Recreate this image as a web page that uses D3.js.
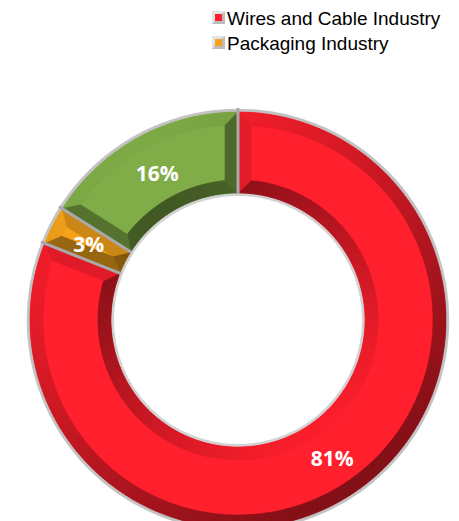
<!DOCTYPE html>
<meta charset="utf-8">
<html>
<head>
<title>Industry share</title>
<style>
  html,body{
    margin:0;
    padding:0;
    background:#fff;
  }
  .legend text{
    font-family: 'Liberation Sans', Arial, sans-serif;
    font-size: 19px;
    fill: #000;
  }
  text.label{
    font-family: 'Open Sans', sans-serif;
    font-weight: 700;
    font-size: 21px;
    fill: #fff;
  }
</style>
</head>
<body>
<svg id="chart" xmlns="http://www.w3.org/2000/svg"></svg>

<script src="https://d3js.org/d3.v7.min.js"></script>
<script type="text/javascript">
  var width = 459, height = 521;

  // slices, clockwise from 12 o'clock
  var industries = ["Wires and Cable Industry", "Packaging Industry", "Other Industries"];
  var shares = [81, 3, 16];
  var colors = ["#ff1f2d", "#f5a31b", "#80ad47"];
  // only these two entries are visible in the legend
  var legendNames = ["Wires and Cable Industry", "Packaging Industry"];

  var cx = 238, cy = 320, outerR = 208, innerR = 127, bevel = 13;
  var light = [-0.6, -0.8];

  var svg = d3.select('#chart')
    .attr('width', width)
    .attr('height', height);

  var pie = d3.pie().sort(null).value(function(d){ return d; });
  var arcs = pie(shares);

  var arc = d3.arc().innerRadius(innerR).outerRadius(outerR);
  var line = d3.line();

  function pt(r, a){
    return [r * Math.sin(a), -r * Math.cos(a)];
  }

  // colour of a bevel face from its normal
  function shade(base, nx, ny){
    var b = nx * light[0] + ny * light[1];
    var t = (b + 1) / 2;
    return d3.interpolateRgb(d3.rgb(base).darker(1.9), d3.rgb(base).darker(0.05))(t);
  }

  var g = svg.append('g').attr('transform', 'translate(' + cx + ',' + cy + ')');

  // soft grey rims
  g.append('circle').attr('r', outerR + 1.5)
    .attr('fill', 'none').attr('stroke', '#c3c3c3').attr('stroke-width', 3.5);
  g.append('circle').attr('r', innerR - 1.5)
    .attr('fill', 'none').attr('stroke', '#d2d2d2').attr('stroke-width', 3);

  arcs.forEach(function(d, i){
    var base = colors[i];
    var sg = g.append('g').attr('class', 'slice');
    var a0 = d.startAngle, a1 = d.endAngle;

    sg.append('path').attr('d', arc(d)).attr('fill', base);

    function quad(pts, col){
      sg.append('path')
        .attr('d', line(pts) + 'Z')
        .attr('fill', col)
        .attr('stroke', col)
        .attr('stroke-width', 0.6);
    }

    var n = Math.max(2, Math.ceil((a1 - a0) / 0.02));
    var dO = Math.asin(bevel / (outerR - bevel));
    var dI = Math.asin(bevel / (innerR + bevel));

    // outer and inner bevels
    for (var k = 0; k < n; k++){
      var t0 = a0 + k * (a1 - a0) / n, t1 = a0 + (k + 1) * (a1 - a0) / n;
      var tm = (t0 + t1) / 2;
      var o0 = (a0 + dO) + k * ((a1 - dO) - (a0 + dO)) / n;
      var o1 = (a0 + dO) + (k + 1) * ((a1 - dO) - (a0 + dO)) / n;
      quad([pt(outerR, t0), pt(outerR, t1), pt(outerR - bevel, o1), pt(outerR - bevel, o0)],
        shade(base, Math.sin(tm), -Math.cos(tm)));
      var i0 = (a0 + dI) + k * ((a1 - dI) - (a0 + dI)) / n;
      var i1 = (a0 + dI) + (k + 1) * ((a1 - dI) - (a0 + dI)) / n;
      quad([pt(innerR, t0), pt(innerR, t1), pt(innerR + bevel, i1), pt(innerR + bevel, i0)],
        shade(base, -Math.sin(tm), Math.cos(tm)));
    }

    // side bevels
    quad([pt(innerR, a0), pt(outerR, a0), pt(outerR - bevel, a0 + dO), pt(innerR + bevel, a0 + dI)],
      shade(base, -Math.cos(a0), -Math.sin(a0)));
    quad([pt(innerR, a1), pt(outerR, a1), pt(outerR - bevel, a1 - dO), pt(innerR + bevel, a1 - dI)],
      shade(base, Math.cos(a1), Math.sin(a1)));
  });

  // grey separators between slices
  g.selectAll('line.sep')
    .data(arcs)
    .enter().append('line')
      .attr('class', 'sep')
      .attr('x1', function(d){ return pt(innerR - 1, d.startAngle)[0]; })
      .attr('y1', function(d){ return pt(innerR - 1, d.startAngle)[1]; })
      .attr('x2', function(d){ return pt(outerR + 4, d.startAngle)[0]; })
      .attr('y2', function(d){ return pt(outerR + 4, d.startAngle)[1]; })
      .attr('stroke', '#a9a9a9')
      .attr('stroke-width', 3);

  // percentage labels
  var labelArc = d3.arc().innerRadius(innerR).outerRadius(outerR);
  g.selectAll('text.label')
    .data(arcs)
    .enter().append('text')
      .attr('class', 'label')
      .attr('transform', function(d){ return 'translate(' + labelArc.centroid(d) + ')'; })
      .attr('text-anchor', 'middle')
      .attr('dy', '0.36em')
      .text(function(d){ return d.data + '%'; });

  // legend
  var legend = svg.append('g').attr('class', 'legend');
  var items = legend.selectAll('g')
    .data(legendNames)
    .enter().append('g')
      .attr('transform', function(d, i){ return 'translate(212,' + (11 + i * 25) + ')'; });

  items.append('rect')
    .attr('width', 13).attr('height', 13)
    .attr('fill', '#bdbdbd');
  items.append('path')
    .attr('d', 'M0,0H13L10,3H3V10L0,13Z')
    .attr('fill', '#e3e3e3');
  items.append('rect')
    .attr('x', 3).attr('y', 3)
    .attr('width', 7).attr('height', 7)
    .attr('fill', function(d, i){ return colors[i]; });
  items.append('text')
    .attr('x', 15)
    .attr('y', 13.5)
    .text(function(d){ return d; });
</script>
</body>
</html>
